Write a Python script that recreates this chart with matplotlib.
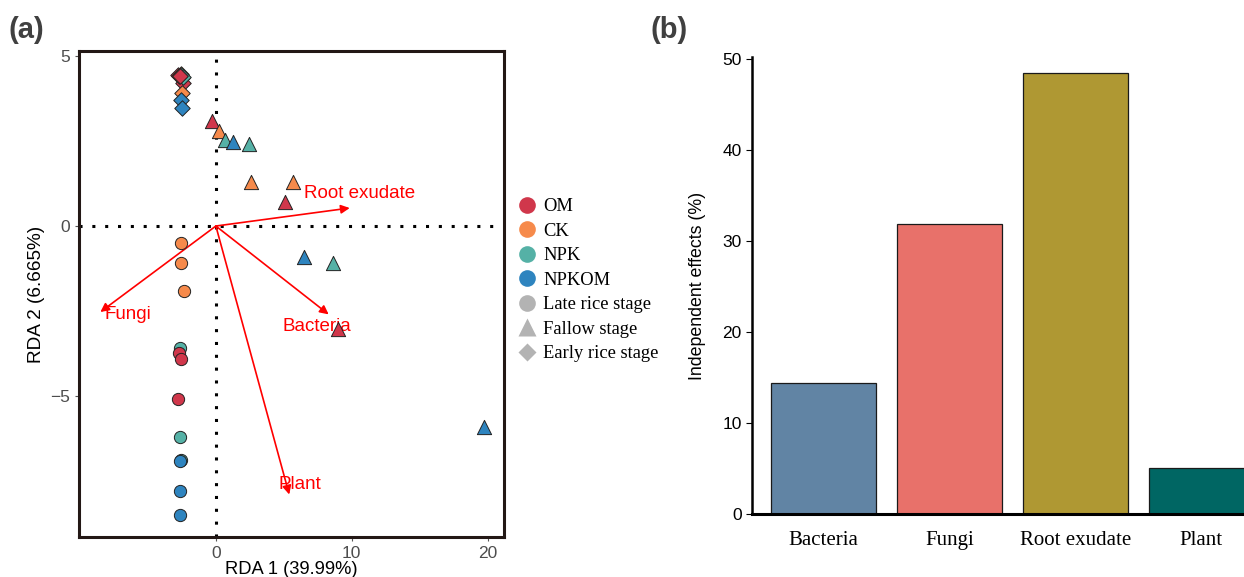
import matplotlib
matplotlib.use("Agg")
import matplotlib.pyplot as plt
from matplotlib.lines import Line2D

# ---- panel (a): RDA scores ----
rda1 = [-2.8, -2.6, -2.55, -2.5, -2.4, -2.5, -2.55, -2.5, -2.6, -2.45, -2.7, -2.65,
        -0.3, 0.2, 0.7, 1.25, 2.45, 2.55, 5.7, 5.1, 6.5, 8.6, 9.0, 19.7,
        -2.6, -2.6, -2.35, -2.65, -2.7, -2.55, -2.8, -2.65, -2.6, -2.65, -2.65, -2.65]
rda2 = [4.45, 4.48, 4.42, 4.35, 4.2, 3.9, 3.72, 3.46, 4.45, 4.38, 4.4, 4.42,
        3.1, 2.8, 2.52, 2.47, 2.4, 1.3, 1.3, 0.72, -0.9, -1.08, -3.03, -5.9,
        -0.5, -1.08, -1.9, -3.6, -3.75, -3.9, -5.1, -6.2, -6.88, -6.9, -7.8, -8.5]
treatment = ["OM", "CK", "NPK", "NPKOM", "OM", "CK", "NPKOM", "NPKOM", "NPK", "NPK", "CK", "OM",
             "OM", "CK", "NPK", "NPKOM", "NPK", "CK", "CK", "OM", "NPKOM", "NPK", "OM", "NPKOM",
             "CK", "CK", "CK", "NPK", "OM", "OM", "OM", "NPK", "NPK", "NPKOM", "NPKOM", "NPKOM"]
stage = ["Early rice stage"] * 12 + ["Fallow stage"] * 12 + ["Late rice stage"] * 12

treatments = ["OM", "CK", "NPK", "NPKOM"]
stages = ["Late rice stage", "Fallow stage", "Early rice stage"]
treat_colors = {"OM": "#D0374B", "CK": "#F68A4B", "NPK": "#55B1A6", "NPKOM": "#2E84BF"}
stage_markers = {"Late rice stage": "o", "Fallow stage": "^", "Early rice stage": "D"}
stage_sizes = {"Late rice stage": 78, "Fallow stage": 105, "Early rice stage": 62}

env_names = ["Root exudate", "Fungi", "Bacteria", "Plant"]
env_x = [9.85, -8.5, 8.3, 5.4]
env_y = [0.53, -2.53, -2.6, -7.9]
env_label_x = [6.5, -8.2, 4.9, 4.6]
env_label_y = [0.95, -2.6, -2.95, -7.6]

# ---- panel (b): independent effects ----
factors = ["Bacteria", "Fungi", "Root exudate", "Plant"]
effects = [14.4, 31.9, 48.4, 5.0]
bar_colors = ["#6184A4", "#E8716A", "#AF9833", "#006663"]

W, H = 1244, 577
fig = plt.figure(figsize=(W / 100, H / 100), dpi=100)

# panel a
ax = fig.add_axes([79 / W, 1 - 537 / H, (504 - 79) / W, (537 - 51) / H])
ax.set_xlim(-10.07, 21.2)
ax.set_ylim(-9.15, 5.15)
ax.axhline(0, color="black", lw=2.2, ls=(0, (1, 3.2)), zorder=1)
ax.axvline(0, color="black", lw=2.2, ls=(0, (1, 3.2)), zorder=1)

for name, ex, ey, lx, ly in zip(env_names, env_x, env_y, env_label_x, env_label_y):
    ax.annotate("", xy=(ex, ey), xytext=(0, 0),
                arrowprops=dict(arrowstyle="-|>", color="red", lw=1.2,
                                mutation_scale=13, shrinkA=0, shrinkB=0),
                zorder=4)
    ax.text(lx, ly, name, color="red", fontsize=13.5, family="Liberation Sans",
            ha="left", va="center", zorder=3)

for st in ["Fallow stage", "Late rice stage", "Early rice stage"]:
    for i in range(len(rda1)):
        if stage[i] != st:
            continue
        ax.scatter(rda1[i], rda2[i], s=stage_sizes[st], marker=stage_markers[st],
                   c=treat_colors[treatment[i]], edgecolors="#222222", linewidths=0.7,
                   zorder=5)

for sp in ax.spines.values():
    sp.set_color("#231815")
    sp.set_linewidth(2.2)
ax.set_xticks([0, 10, 20])
ax.set_yticks([-5, 0, 5])
ax.tick_params(colors="#555555", labelsize=12.5, length=3, width=0.8)
for lab in ax.get_xticklabels() + ax.get_yticklabels():
    lab.set_family("Liberation Sans")
    lab.set_color("#4D4D4D")
ax.set_xlabel("RDA 1 (39.99%)", fontsize=13.2, family="Liberation Sans", labelpad=0)
ax.set_ylabel("RDA 2 (6.665%)", fontsize=13.7, family="Liberation Sans", labelpad=4)

handles = [Line2D([], [], ls="", marker="o", ms=12, mfc=treat_colors[t], mec="none", label=t)
           for t in treatments]
handles += [Line2D([], [], ls="", marker=stage_markers[s], ms={"o": 12, "^": 13, "D": 9}[stage_markers[s]],
                   mfc="#B3B3B3", mec="none", label=s) for s in stages]
fig.legend(handles=handles, loc="upper left", bbox_to_anchor=(518 / W, 1 - 198 / H),
           frameon=False, prop={"family": "Liberation Serif", "size": 13.3},
           handlelength=1.0, handletextpad=0.35, labelspacing=0.41, borderpad=0,
           borderaxespad=0)

fig.text(9 / W, 1 - 30 / H, "(a)", fontsize=21, fontweight="bold", color="#404040",
         family="Liberation Sans", va="center")

# panel b
bx = fig.add_axes([752 / W, 1 - 514 / H, (W - 752) / W, (514 - 57) / H])
bx.bar(range(len(factors)), effects, width=0.83, color=bar_colors,
       edgecolor="#1a1a1a", linewidth=0.9)
bx.set_xlim(-0.569, 3.338)
bx.set_ylim(0, 50.2)
bx.spines["top"].set_visible(False)
bx.spines["right"].set_visible(False)
bx.spines["left"].set_linewidth(1.8)
bx.spines["bottom"].set_linewidth(2.2)
bx.set_yticks([0, 10, 20, 30, 40, 50])
bx.set_xticks(range(len(factors)))
bx.set_xticklabels(factors, family="Liberation Serif", fontsize=15)
bx.tick_params(axis="x", length=0, pad=12)
bx.tick_params(axis="y", labelsize=12.5, length=4, width=0.8)
for lab in bx.get_yticklabels():
    lab.set_family("Liberation Sans")
bx.set_ylabel("Independent effects (%)", fontsize=12.8, family="Liberation Sans", labelpad=12)

fig.text(650 / W, 1 - 30 / H, "(b)", fontsize=21, fontweight="bold", color="#404040",
         family="Liberation Sans", va="center")

fig.savefig("out.png", dpi=100)
